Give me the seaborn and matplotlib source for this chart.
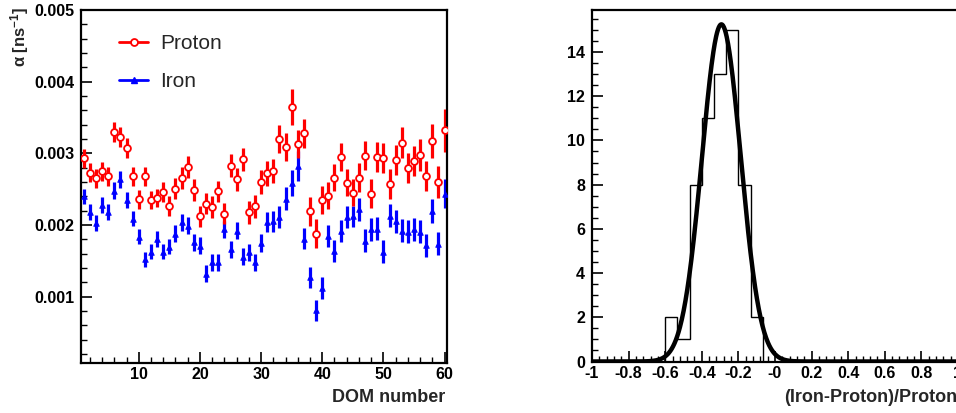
import numpy as np
import pandas as pd
import matplotlib.pyplot as plt
import seaborn as sns
from matplotlib.lines import Line2D
from matplotlib.ticker import MultipleLocator, FixedLocator, FixedFormatter, FormatStrFormatter

# --- data ---
dom = list(range(1, 61))

proton = [0.00293, 0.00273, 0.00265, 0.00275, 0.00268, 0.00330, 0.00323, 0.00307, 0.00268, 0.00236,
          0.00268, 0.00235, 0.00238, 0.00246, 0.00226, 0.00251, 0.00266, 0.00281, 0.00249, 0.00212,
          0.00230, 0.00225, 0.00247, 0.00216, 0.00283, 0.00264, 0.00292, 0.00218, 0.00226, 0.00260,
          0.00272, 0.00275, 0.00320, 0.00309, 0.00365, 0.00313, 0.00328, 0.00219, 0.00188, 0.00235,
          0.00241, 0.00266, 0.00295, 0.00259, 0.00245, 0.00266, 0.00297, 0.00244, 0.00295, 0.00293,
          0.00257, 0.00291, 0.00315, 0.00280, 0.00289, 0.00298, 0.00268, 0.00317, 0.00260, 0.00332]

proton_err = [0.00013, 0.00013, 0.00013, 0.00013, 0.00013, 0.00014, 0.00014, 0.00014, 0.00013, 0.00013,
              0.00013, 0.00013, 0.00013, 0.00014, 0.00014, 0.00015, 0.00015, 0.00015, 0.00015, 0.00015,
              0.00015, 0.00015, 0.00015, 0.00015, 0.00016, 0.00016, 0.00016, 0.00016, 0.00016, 0.00017,
              0.00017, 0.00017, 0.00019, 0.00019, 0.00025, 0.00020, 0.00020, 0.00020, 0.00020, 0.00019,
              0.00019, 0.00019, 0.00020, 0.00019, 0.00019, 0.00020, 0.00020, 0.00020, 0.00021, 0.00021,
              0.00021, 0.00021, 0.00022, 0.00021, 0.00021, 0.00022, 0.00021, 0.00024, 0.00022, 0.00030]

iron = [0.00240, 0.00218, 0.00203, 0.00228, 0.00218, 0.00248, 0.00264, 0.00235, 0.00209, 0.00184,
        0.00152, 0.00163, 0.00181, 0.00163, 0.00170, 0.00188, 0.00204, 0.00199, 0.00176, 0.00171,
        0.00132, 0.00148, 0.00148, 0.00194, 0.00166, 0.00192, 0.00156, 0.00162, 0.00148, 0.00175,
        0.00204, 0.00205, 0.00211, 0.00237, 0.00259, 0.00282, 0.00181, 0.00127, 0.00081, 0.00112,
        0.00185, 0.00164, 0.00192, 0.00211, 0.00212, 0.00222, 0.00178, 0.00194, 0.00195, 0.00163,
        0.00213, 0.00205, 0.00192, 0.00191, 0.00194, 0.00191, 0.00172, 0.00220, 0.00174, 0.00244]

iron_err = [0.00011, 0.00011, 0.00011, 0.00011, 0.00011, 0.00012, 0.00012, 0.00011, 0.00011, 0.00011,
            0.00011, 0.00011, 0.00011, 0.00011, 0.00011, 0.00012, 0.00012, 0.00012, 0.00012, 0.00012,
            0.00012, 0.00012, 0.00012, 0.00012, 0.00012, 0.00012, 0.00012, 0.00012, 0.00012, 0.00013,
            0.00014, 0.00014, 0.00015, 0.00016, 0.00018, 0.00021, 0.00015, 0.00015, 0.00015, 0.00015,
            0.00015, 0.00015, 0.00015, 0.00015, 0.00015, 0.00016, 0.00016, 0.00016, 0.00016, 0.00016,
            0.00016, 0.00016, 0.00016, 0.00016, 0.00016, 0.00016, 0.00016, 0.00017, 0.00016, 0.00020]

# histogram of (Iron-Proton)/Proton, 30 bins from -1 to 1
hist_edges = np.linspace(-1, 1, 31)
hist_counts = [0, 0, 0, 0, 0, 0, 2, 1, 8, 11, 13, 15, 8, 2, 0,
               0, 0, 0, 0, 0, 0, 0, 0, 0, 0, 0, 0, 0, 0, 0]

# gaussian fit parameters
fit_amp = 15.25
fit_mean = -0.293
fit_sigma = 0.106

xtick_vals = [-1, -0.8, -0.6, -0.4, -0.2, 0, 0.2, 0.4, 0.6, 0.8, 1]
xtick_labels = ['-1', '-0.8', '-0.6', '-0.4', '-0.2', '-0', '0.2', '0.4', '0.6', '0.8', '1']

sns.set_theme(style='ticks')
plt.rcParams['font.family'] = ['Liberation Sans', 'DejaVu Sans']
plt.rcParams['mathtext.fontset'] = 'custom'
plt.rcParams['mathtext.rm'] = 'Liberation Sans'
plt.rcParams['mathtext.it'] = 'Liberation Sans:italic'
plt.rcParams['mathtext.bf'] = 'Liberation Sans:bold'

W, H = 956, 413
fig = plt.figure(figsize=(W / 100, H / 100), dpi=100)

ax1 = fig.add_axes([81 / W, (H - 362.7) / H, 366 / W, 352.7 / H])
ax2 = fig.add_axes([592 / W, (H - 361.5) / H, 366 / W, 351.5 / H])

df = pd.DataFrame({'dom': dom, 'proton': proton, 'iron': iron})

# --- left: alpha per DOM ---
ax1.errorbar(dom, iron, yerr=iron_err, fmt='none', ecolor='#0000ff', elinewidth=2.3, capsize=0, zorder=2)
ax1.errorbar(dom, proton, yerr=proton_err, fmt='none', ecolor='#ff0000', elinewidth=2.3, capsize=0, zorder=2)
sns.scatterplot(data=df, x='dom', y='iron', ax=ax1, marker='^', s=16, color='#0000ff',
                edgecolor='#0000ff', linewidth=0.6, zorder=3)
sns.scatterplot(data=df, x='dom', y='proton', ax=ax1, marker='o', s=24, facecolor='white',
                edgecolor='#ff0000', linewidth=1.3, zorder=3)

ax1.set_xlim(0.55, 60.4)
ax1.set_ylim(0.00008, 0.005)
ax1.xaxis.set_major_locator(MultipleLocator(10))
ax1.xaxis.set_minor_locator(MultipleLocator(2))
ax1.yaxis.set_major_locator(MultipleLocator(0.001))
ax1.yaxis.set_minor_locator(MultipleLocator(0.0002))
ax1.yaxis.set_major_formatter(FormatStrFormatter('%.3f'))
ax1.set_xlabel('')
ax1.set_ylabel('')

handles = [Line2D([], [], color='#ff0000', lw=2, marker='o', ms=5, mfc='white', mec='#ff0000', mew=1.3),
           Line2D([], [], color='#0000ff', lw=2, marker='^', ms=4, mfc='#0000ff', mec='#0000ff')]
ax1.legend(handles, ['Proton', 'Iron'], loc='upper left', bbox_to_anchor=(0.053, 0.984), frameon=False,
           fontsize=15, handlelength=1.4, handletextpad=0.55, labelspacing=0.9)

# --- right: histogram + gaussian fit ---
ax2.stairs(hist_counts, hist_edges, color='black', linewidth=1.0, baseline=0)
fit_x = np.linspace(-1, 1, 800)
fit_y = fit_amp * np.exp(-0.5 * ((fit_x - fit_mean) / fit_sigma) ** 2)
sns.lineplot(x=fit_x, y=fit_y, color='black', linewidth=3.2, ax=ax2)

ax2.set_xlim(-1, 1)
ax2.set_ylim(0, 15.9)
ax2.xaxis.set_major_locator(FixedLocator(xtick_vals))
ax2.xaxis.set_major_formatter(FixedFormatter(xtick_labels))
ax2.xaxis.set_minor_locator(MultipleLocator(0.04))
ax2.yaxis.set_major_locator(MultipleLocator(2))
ax2.yaxis.set_minor_locator(MultipleLocator(0.5))
ax2.set_xlabel('')
ax2.set_ylabel('')

for ax in (ax1, ax2):
    for sp in ax.spines.values():
        sp.set_visible(True)
        sp.set_linewidth(1.6)
        sp.set_color('black')
    ax.tick_params(which='both', direction='in', top=False, right=False, colors='black')
    ax.tick_params(which='major', length=8, width=1.2, labelsize=11.5, pad=3)
    ax.tick_params(which='minor', length=4, width=1.0)
    ax.tick_params(axis='y', which='major', pad=5)
    for lab in ax.get_xticklabels() + ax.get_yticklabels():
        lab.set_fontweight('bold')
    ax.set_facecolor('white')

fig.text(20 / W, 1 - 7 / H, 'α [ns$^{\\mathbf{-1}}$]', rotation=90, ha='center', va='top',
         fontsize=12, fontweight='bold')
fig.text(445 / W, 1 - 398 / H, 'DOM number', ha='right', va='center', fontsize=13, fontweight='bold')
fig.text(957 / W, 1 - 398 / H, '(Iron-Proton)/Proton', ha='right', va='center', fontsize=13,
         fontweight='bold')

fig.savefig('out.png', dpi=100, facecolor='white')
